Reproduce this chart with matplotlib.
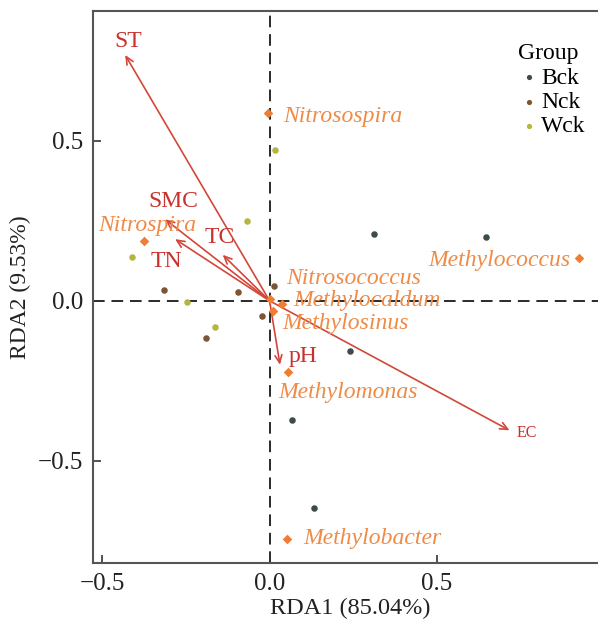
import matplotlib
matplotlib.use("Agg")
import matplotlib.pyplot as plt

plt.rcParams['font.family'] = ['Liberation Serif', 'DejaVu Serif']
plt.rcParams['mathtext.default'] = 'regular'

# sample scores (RDA1, RDA2)
groups = ['Bck', 'Nck', 'Wck']
bck_x = [0.312, 0.646, 0.240, 0.067, 0.133]
bck_y = [0.209, 0.200, -0.156, -0.372, -0.647]
nck_x = [0.013, -0.316, -0.095, -0.023, -0.190]
nck_y = [0.047, 0.033, 0.028, -0.046, -0.116]
wck_x = [-0.068, -0.411, -0.245, -0.162, 0.016]
wck_y = [0.250, 0.138, -0.003, -0.083, 0.473]

# species scores
species = ['Nitrosospira', 'Nitrospira', 'Methylococcus', 'Nitrosococcus',
           'Methylocaldum', 'Methylosinus', 'Methylomonas', 'Methylobacter']
sp_x = [-0.004, -0.374, 0.924, 0.000, 0.036, 0.010, 0.054, 0.052]
sp_y = [0.587, 0.188, 0.133, 0.005, -0.010, -0.031, -0.224, -0.744]

# environmental factor arrows
env = ['ST', 'SMC', 'TN', 'TC', 'pH', 'EC']
env_x = [-0.431, -0.312, -0.282, -0.140, 0.031, 0.716]
env_y = [0.769, 0.255, 0.193, 0.144, -0.200, -0.405]

# label placement (offset pixels from the point, alignment)
sp_offsets = [(15, -3, 'left'), (3, 15, 'center'), (-9, -2, 'right'),
              (17, 21, 'left'), (12, 4, 'left'), (9, -13, 'left'),
              (-9, -20, 'left'), (16, 0, 'left')]
env_offsets = [(3, 13), (8, 18), (-9, -22), (-3, 17), (23, 8), (17, -3)]

group_colors = {'Bck': '#3f4b4b', 'Nck': '#7c5534', 'Wck': '#b4b63e'}
sp_color = '#f07d32'
sp_text = '#ef8b47'
arrow_color = '#d2473a'
env_text = '#c9312c'

fig = plt.figure(figsize=(5.98, 6.21), dpi=100)
ax = fig.add_axes([93 / 598, 1 - 563 / 621, (607 - 93) / 598, (563 - 10.5) / 621])
ax.set_xlim(-0.527, 1.007)
ax.set_ylim(-0.82, 0.908)

ax.axhline(0, color='#2a2a2a', lw=1.4, ls=(0, (6, 3.5)), zorder=1)
ax.axvline(0, color='#2a2a2a', lw=1.4, ls=(0, (6, 3.5)), zorder=1)

for g, xs, ys in zip(groups, [bck_x, nck_x, wck_x], [bck_y, nck_y, wck_y]):
    ax.scatter(xs, ys, s=22, color=group_colors[g], label=g, zorder=3, linewidths=0)

for x, y in zip(env_x, env_y):
    ax.annotate('', xy=(x, y), xytext=(0, 0),
                arrowprops=dict(arrowstyle='->,head_length=0.55,head_width=0.25',
                                color=arrow_color, lw=1.2, shrinkA=0, shrinkB=0),
                zorder=4)

ax.scatter(sp_x, sp_y, marker='D', s=24, color=sp_color, linewidths=0, zorder=5)
for name, x, y, (dx, dy, ha) in zip(species, sp_x, sp_y, sp_offsets):
    ax.annotate(name, (x, y), xytext=(dx, dy), textcoords='offset pixels',
                ha=ha, va='center', fontsize=17, style='italic', color=sp_text,
                zorder=6)

for name, x, y, (dx, dy) in zip(env, env_x, env_y, env_offsets):
    ax.annotate(name, (x, y), xytext=(dx, dy), textcoords='offset pixels',
                ha='center', va='center', fontsize=11.5 if name == 'EC' else 17,
                color=env_text, zorder=6)

leg = ax.legend(title='Group', loc='upper left', bbox_to_anchor=(0.803, 0.962),
                frameon=False, fontsize=17, title_fontsize=17,
                handletextpad=0.0, handlelength=1.0, labelspacing=0.12,
                borderpad=0, markerscale=0.8)
leg._legend_box.align = 'left'
leg._legend_box.sep = 2

for side in ['left', 'bottom', 'top', 'right']:
    ax.spines[side].set_color('#555555')
    ax.spines[side].set_linewidth(1.5)

ax.set_xticks([-0.5, 0.0, 0.5])
ax.set_yticks([-0.5, 0.0, 0.5])
ax.set_xticklabels(['\u22120.5', '0.0', '0.5'])
ax.set_yticklabels(['\u22120.5', '0.0', '0.5'])
ax.tick_params(direction='in', length=6, width=1.2, color='#333333',
               labelsize=18, labelcolor='#222222', pad=7)

ax.set_xlabel('RDA1 (85.04%)', fontsize=17.5, color='#222222', labelpad=2)
ax.set_ylabel('RDA2 (9.53%)', fontsize=17, color='#222222', labelpad=5)

fig.savefig('out.png', dpi=100)
